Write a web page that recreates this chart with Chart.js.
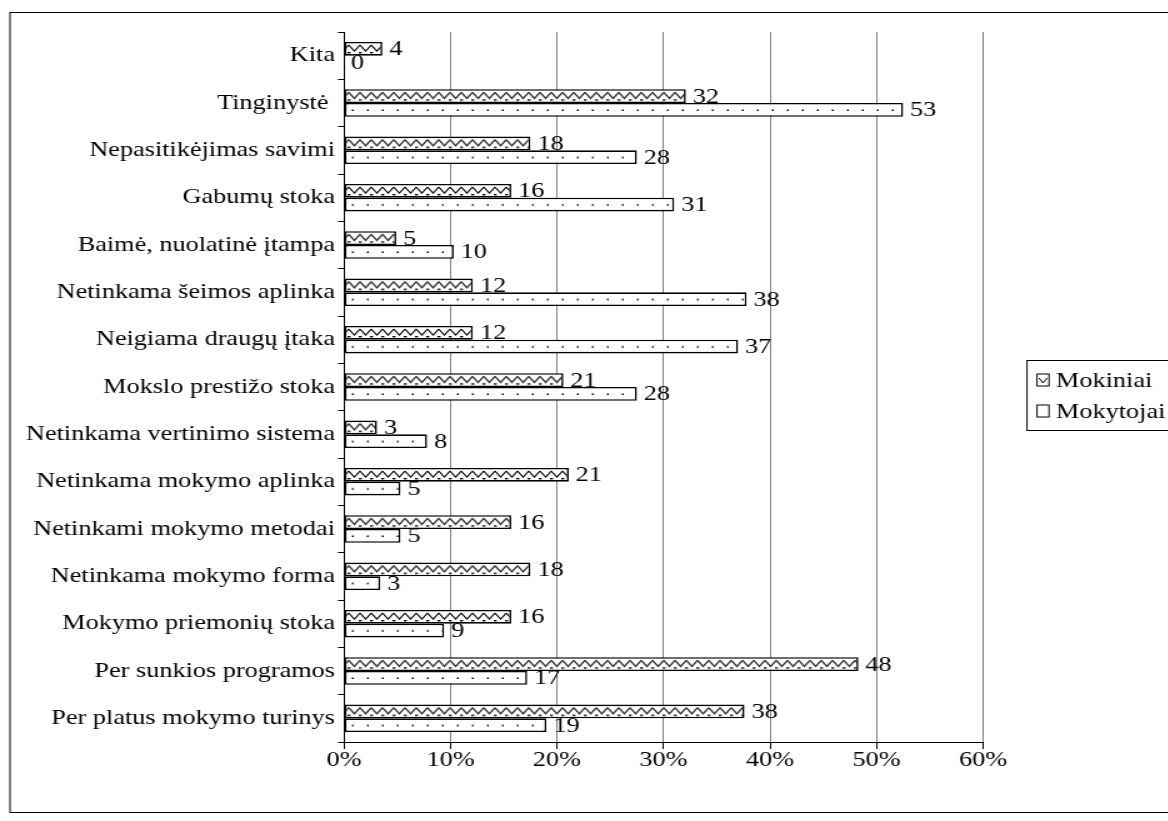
<!DOCTYPE html>
<html>
<head>
<meta charset="utf-8">
<script src="https://cdn.jsdelivr.net/npm/chart.js@4.4.1/dist/chart.umd.min.js"></script>
<style>
    html, body { margin: 0; padding: 0; background: #fff; overflow: hidden; }
    #wrap { position: absolute; left: 0; top: 0; transform-origin: 0 0; }
</style>
</head>
<body>
<div id="wrap"><canvas id="chart"></canvas></div>
<script>
// --- data ---
const categories = [
    'Kita', 'Tinginystė ', 'Nepasitikėjimas savimi', 'Gabumų stoka',
    'Baimė, nuolatinė įtampa', 'Netinkama šeimos aplinka', 'Neigiama draugų įtaka',
    'Mokslo prestižo stoka', 'Netinkama vertinimo sistema', 'Netinkama mokymo aplinka',
    'Netinkami mokymo metodai', 'Netinkama mokymo forma', 'Mokymo priemonių stoka',
    'Per sunkios programos', 'Per platus mokymo turinys'
];
const seriesNames = ['Mokiniai', 'Mokytojai'];
const mokiniai  = [3.6, 32.1, 17.5, 15.7, 4.9, 12.1, 12.1, 20.6, 3.1, 21.1, 15.7, 17.5, 15.7, 48.3, 37.6];
const mokytojai = [0, 52.5, 27.5, 31.0, 10.3, 37.8, 37.0, 27.5, 7.8, 5.3, 5.3, 3.4, 9.4, 17.2, 19.0];
const mokiniaiLabels  = ['4', '32', '18', '16', '5', '12', '12', '21', '3', '21', '16', '18', '16', '48', '38'];
const mokytojaiLabels = ['0', '53', '28', '31', '10', '38', '37', '28', '8', '5', '5', '3', '9', '17', '19'];
const xTicks = [0, 10, 20, 30, 40, 50, 60];

// the source picture is stretched sideways, so draw narrow and scale the canvas
const SX = 1.25;
const W = Math.round(1168 / SX), H = 821;
const px = v => v / SX;
const PLOT_TOP = 32, PLOT_BOTTOM = 742;
const BAR_SHARE = 0.58;
const FAMILY = '"Liberation Serif", Tinos, "Nimbus Roman", "Times New Roman", Times, serif';
const FONT = { family: FAMILY, size: 21 };

const canvas = document.getElementById('chart');
canvas.width = W;
canvas.height = H;
document.getElementById('wrap').style.transform = 'scaleX(' + SX + ')';

// --- fill patterns ---
function makeTile(kind) {
    const c = document.createElement('canvas');
    const g = c.getContext('2d');
    if (kind === 'wave') {
        c.width = 9; c.height = 14;
        g.fillStyle = '#fff'; g.fillRect(0, 0, 9, 14);
        g.strokeStyle = '#000'; g.lineWidth = 1.1;
        g.beginPath(); g.moveTo(0, 3); g.lineTo(4.5, 9); g.lineTo(9, 3); g.stroke();
        g.fillStyle = '#000';
        g.fillRect(0, 10, 1.4, 1.4);
        g.fillRect(8, 10, 1.4, 1.4);
    } else {
        c.width = 12; c.height = 14;
        g.fillStyle = '#fff'; g.fillRect(0, 0, 12, 14);
        g.fillStyle = '#000'; g.fillRect(5.5, 6.5, 1.5, 1.5);
    }
    return c;
}
const waveTile = makeTile('wave');
const dotTile = makeTile('dots');

function barFill(ctx) {
    const chart = ctx.chart;
    const yScale = chart.scales && chart.scales.y;
    if (!yScale || ctx.type !== 'data') return '#fff';
    const pat = chart.ctx.createPattern(ctx.datasetIndex === 0 ? waveTile : dotTile, 'repeat');
    const thick = yScale.height / categories.length * BAR_SHARE / 2;
    const yc = yScale.getPixelForValue(ctx.dataIndex);
    const top = ctx.datasetIndex === 0 ? yc - thick : yc;
    pat.setTransform(new DOMMatrix([1, 0, 0, 1, 0, top]));
    return pat;
}

// --- plugins ---
const framePlugin = {
    id: 'frame',
    beforeDraw(chart) {
        const g = chart.ctx;
        g.save();
        g.fillStyle = '#fff';
        g.fillRect(0, 0, W, H);
        g.strokeStyle = '#000';
        g.lineWidth = 1;
        g.strokeRect(px(10), 12.5, W, 800);
        g.restore();
    }
};

const valueLabels = {
    id: 'valueLabels',
    afterDatasetsDraw(chart) {
        const g = chart.ctx;
        g.save();
        g.font = FONT.size + 'px ' + FAMILY;
        g.fillStyle = '#000';
        g.textBaseline = 'middle';
        [mokiniaiLabels, mokytojaiLabels].forEach((labels, di) => {
            chart.getDatasetMeta(di).data.forEach((bar, i) => {
                g.fillText(labels[i], bar.x + px(7), bar.y + 1);
            });
        });
        g.restore();
    }
};

const boxLegend = {
    id: 'boxLegend',
    afterDraw(chart) {
        const g = chart.ctx;
        g.save();
        g.strokeStyle = '#000';
        g.lineWidth = 1;
        g.strokeRect(px(1027), 360.5, W, 70);
        g.font = FONT.size + 'px ' + FAMILY;
        g.textBaseline = 'middle';
        chart.data.datasets.forEach((ds, i) => {
            const yc = 380 + i * 31;
            const bx = px(1037), bs = 12;
            g.fillStyle = '#fff';
            g.fillRect(bx, yc - bs / 2, px(bs), bs);
            if (i === 0) {
                g.beginPath();
                g.moveTo(bx + px(2), yc - 2); g.lineTo(bx + px(6), yc + 3); g.lineTo(bx + px(10), yc - 2);
                g.stroke();
            }
            g.strokeRect(bx, yc - bs / 2, px(bs), bs);
            g.fillStyle = '#000';
            g.fillText(ds.label, px(1056), yc + 1);
        });
        g.restore();
    }
};

function draw() {
    new Chart(canvas, {
        type: 'bar',
        data: {
            labels: categories,
            datasets: [
                { label: seriesNames[0], data: mokiniai, backgroundColor: barFill, borderColor: '#000' },
                { label: seriesNames[1], data: mokytojai, backgroundColor: barFill, borderColor: '#000' }
            ]
        },
        options: {
            indexAxis: 'y',
            responsive: false,
            animation: false,
            devicePixelRatio: 1,
            categoryPercentage: BAR_SHARE,
            barPercentage: 1,
            datasets: { bar: { borderWidth: 1.6, borderSkipped: false } },
            layout: { padding: { top: PLOT_TOP, right: W - px(983), left: 0, bottom: 0 } },
            plugins: { legend: { display: false }, tooltip: { enabled: false }, colors: { enabled: false } },
            scales: {
                x: {
                    min: 0, max: 60,
                    afterBuildTicks: s => { s.ticks = xTicks.map(v => ({ value: v })); },
                    afterFit: s => { s.height = H - PLOT_BOTTOM; },
                    ticks: { callback: v => v + '%', font: FONT, color: '#000', padding: -1, maxRotation: 0 },
                    grid: { color: '#808080', lineWidth: 1, tickLength: 7, tickColor: '#000' },
                    border: { color: '#000', width: 1 }
                },
                y: {
                    afterFit: s => { s.width = px(344); },
                    ticks: { font: FONT, color: '#000', padding: px(3), autoSkip: false },
                    grid: { drawOnChartArea: false, offset: true, tickLength: px(6), color: '#000' },
                    border: { color: '#000', width: 1 }
                }
            }
        },
        plugins: [framePlugin, valueLabels, boxLegend]
    });
}

document.fonts.load('21px "Liberation Serif"').then(draw, draw);
</script>
</body>
</html>
